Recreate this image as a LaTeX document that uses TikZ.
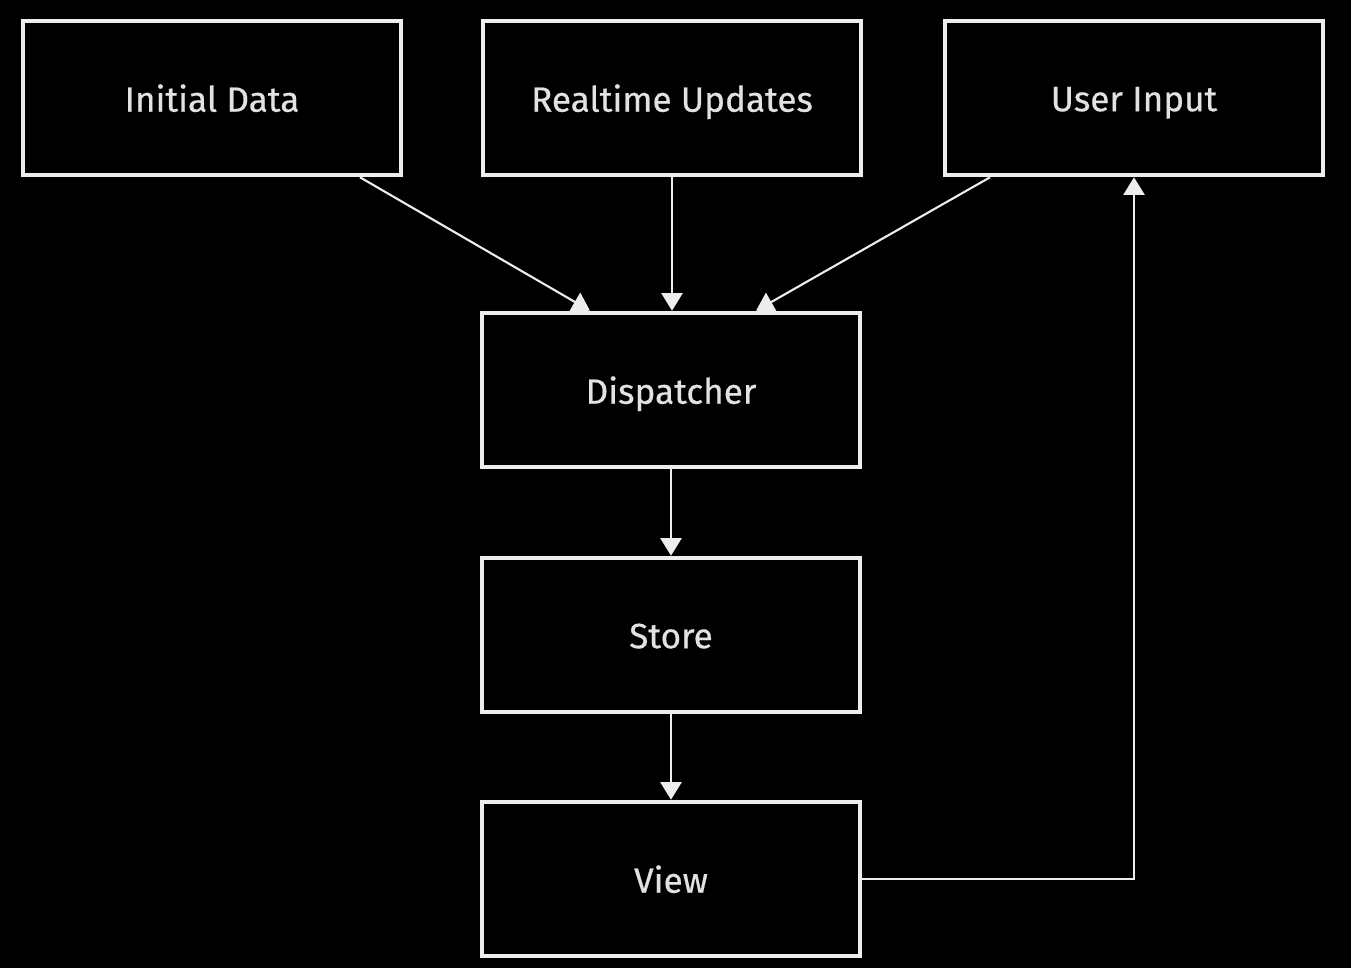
\documentclass[tikz,border=0pt]{standalone}
\usepackage{fontspec}
\setmainfont{Fira Sans}
\newfontfamily\lblfont{Fira Sans}[FakeBold=0.5]
\usetikzlibrary{arrows.meta}
\definecolor{chalk}{HTML}{EDEDED}
\definecolor{txt}{HTML}{E2E2E2}
\begin{document}
\begin{tikzpicture}[x=0.02cm,y=-0.02cm,
  box/.style={draw=chalk, line width=2.6pt, fill=black, minimum width=378*0.02cm, minimum height=154*0.02cm, inner sep=0pt, text=txt, font=\fontsize{20}{24}\lblfont, text depth=0pt, execute at begin node={\vphantom{l}}},
  conn/.style={draw=chalk, line width=1.2pt, -{Triangle[width=12pt,length=10pt]}}]
\fill[black] (0,0) rectangle (1351,968);
\useasboundingbox (0,0) rectangle (1351,968);
\node[box] (init) at (212,98) {Initial Data};
\node[box] (rt) at (672,98) {Realtime Updates};
\node[box] (ui) at (1134,98) {User Input};
\node[box] (disp) at (671,390) {Dispatcher};
\node[box] (store) at (671,635) {Store};
\node[box] (view) at (671,879) {View};
\coordinate (c1) at (1134,879);
\draw[conn] (init.south -| 360,0) -- (disp.north -| 590,0);
\draw[conn] (rt.south) -- (disp.north -| 672,0);
\draw[conn] (ui.south -| 990,0) -- (disp.north -| 756,0);
\draw[conn] (disp.south) -- (store.north);
\draw[conn] (store.south) -- (view.north);
\draw[conn] (view.east) -- (c1) -- (ui.south);
\end{tikzpicture}
\end{document}
